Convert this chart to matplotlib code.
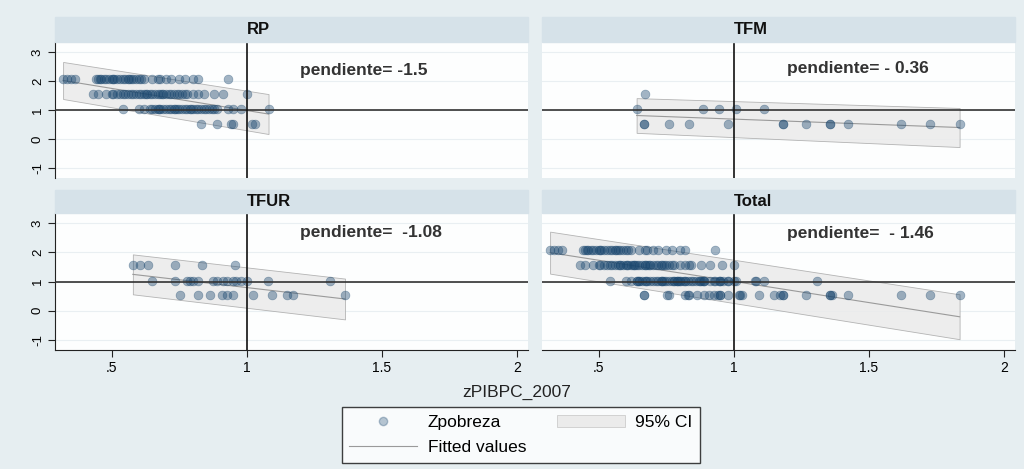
import numpy as np
import matplotlib
matplotlib.use('Agg')
import matplotlib.pyplot as plt
from matplotlib.lines import Line2D
from matplotlib.patches import Patch, Rectangle

plt.rcParams['font.family'] = ['Liberation Sans', 'DejaVu Sans']

# data: Zpobreza takes four levels
levels = [2.07, 1.55, 1.03, 0.52]

# RP, x positions by level
rp_rows = [
    [0.32, 0.335, 0.35, 0.365, 0.44, 0.45, 0.455, 0.46, 0.47, 0.48, 0.49, 0.50, 0.505, 0.51,
     0.52, 0.53, 0.54, 0.55, 0.56, 0.565, 0.57, 0.58, 0.59, 0.60, 0.61, 0.62, 0.65, 0.67,
     0.68, 0.70, 0.72, 0.75, 0.77, 0.80, 0.82, 0.93],
    [0.43, 0.45, 0.48, 0.50, 0.505, 0.52, 0.53, 0.54, 0.55, 0.56, 0.57, 0.58, 0.59, 0.60,
     0.61, 0.62, 0.625, 0.63, 0.64, 0.65, 0.66, 0.67, 0.68, 0.685, 0.69, 0.70, 0.71, 0.72,
     0.73, 0.74, 0.75, 0.76, 0.77, 0.78, 0.80, 0.82, 0.84, 0.88, 0.91, 1.00],
    [0.54, 0.60, 0.62, 0.64, 0.65, 0.66, 0.67, 0.675, 0.68, 0.69, 0.70, 0.71, 0.72, 0.73,
     0.735, 0.74, 0.75, 0.76, 0.77, 0.78, 0.79, 0.795, 0.80, 0.81, 0.82, 0.83, 0.84, 0.85,
     0.86, 0.87, 0.88, 0.89, 0.93, 0.95, 0.98, 1.08],
    [0.83, 0.89, 0.94, 0.95, 1.02, 1.03],
]
tfm_rows = [
    [0.67],
    [0.64, 0.886, 0.945, 1.007, 1.113],
    [0.666, 0.666, 0.76, 0.835, 0.98, 1.18, 1.18, 1.265, 1.357, 1.357, 1.423, 1.62, 1.724, 1.835],
    [],
]
tfur_rows = [
    [],
    [0.578, 0.604, 0.633, 0.733, 0.833, 0.956],
    [0.648, 0.733, 0.78, 0.79, 0.80, 0.82, 0.874, 0.89, 0.91, 0.926, 0.948, 0.96, 0.98, 1.0,
     1.078, 1.307],
    [0.752, 0.818, 0.863, 0.907, 0.925, 0.948, 1.022, 1.093, 1.148, 1.17, 1.363],
]
# TFUR has no 2.07 level; its rows are shifted down by one level
tfur_levels = [None, 1.55, 1.03, 0.52]
tfm_levels = [1.55, 1.03, 0.52, None]

panel_names = ['RP', 'TFM', 'TFUR', 'Total']
slope_labels = ['pendiente= -1.5', 'pendiente= - 0.36', 'pendiente=  -1.08', 'pendiente=  - 1.46']
label_y = [2.38, 2.45, 2.67, 2.64]
# fitted values and 95% CI half width at the left and right ends of each panel
fit_left = [2.02, 0.81, 1.245, 1.99]
fit_right = [0.86, 0.395, 0.40, -0.21]
ci_left = [0.64, 0.60, 0.685, 0.72]
ci_right = [0.69, 0.675, 0.70, 0.77]


def flatten(rows, lv):
    px, py = [], []
    for r, v in zip(rows, lv):
        px += r
        py += [v] * len(r)
    return px, py


rp_x, rp_y = flatten(rp_rows, levels)
tfm_x, tfm_y = flatten(tfm_rows, tfm_levels)
tfur_x, tfur_y = flatten(tfur_rows, tfur_levels)
total_x = rp_x + tfm_x + tfur_x
total_y = rp_y + tfm_y + tfur_y

xs = [rp_x, tfm_x, tfur_x, total_x]
ys = [rp_y, tfm_y, tfur_y, total_y]

W, H = 1024, 469
BG = '#e6eef1'
STRIP = '#d6e2e9'
DOT = '#1a476f'


def rect(l, t, r, b):
    return [l / W, 1 - b / H, (r - l) / W, (b - t) / H]


fig = plt.figure(figsize=(W / 100, H / 100), dpi=100, facecolor=BG)

boxes = [(55, 42, 528, 178), (542, 42, 1015, 178),
         (55, 213, 528, 350), (542, 213, 1015, 350)]
strips = [(55, 17, 528, 42), (542, 17, 1015, 42),
          (55, 190, 528, 213), (542, 190, 1015, 213)]

for k in range(4):
    l, t, r, b = strips[k]
    fig.patches.append(Rectangle((l / W, 1 - b / H), (r - l) / W, (b - t) / H,
                                 transform=fig.transFigure, color=STRIP, zorder=0))

    ax = fig.add_axes(rect(*boxes[k]))
    ax.set_facecolor('#fdfefe')
    ax.set_xlim(0.29, 2.04)
    ax.set_ylim(-1.35, 3.35)
    for yy in [-1, 0, 1, 2, 3]:
        ax.axhline(yy, color='#e9eff2', lw=0.8, zorder=0)

    x = np.array(xs[k])
    x0, x1 = x.min(), x.max()
    ax.fill_between([x0, x1], [fit_left[k] - ci_left[k], fit_right[k] - ci_right[k]],
                    [fit_left[k] + ci_left[k], fit_right[k] + ci_right[k]],
                    facecolor='#ebebeb', edgecolor='#a8a8a8', lw=0.6, alpha=0.85, zorder=1)
    ax.plot([x0, x1], [fit_left[k], fit_right[k]], color='#9a9a9a', lw=0.8, zorder=2)
    ax.scatter(x, ys[k], s=40, color=DOT, alpha=0.4, edgecolors=DOT, linewidths=0.5, zorder=3)

    ax.axhline(1, color='#333333', lw=1.2, zorder=4)
    ax.axvline(1, color='#111111', lw=1.2, zorder=4)

    ax.text(1.195, label_y[k], slope_labels[k], fontsize=12.5, fontweight='bold',
            color='#333333', va='center', ha='left')
    fig.text(boxes[k][0] / W + (1 - 0.29) / (2.04 - 0.29) * (boxes[k][2] - boxes[k][0]) / W,
             1 - (strips[k][1] + strips[k][3]) / 2 / H, panel_names[k],
             fontsize=12, fontweight='bold', ha='left', va='center', color='#111111')

    for s in ['top', 'right']:
        ax.spines[s].set_visible(False)
    if k % 2 == 0:
        ax.spines['left'].set_color('#222222')
        ax.set_yticks([-1, 0, 1, 2, 3])
        ax.set_yticklabels(['-1', '0', '1', '2', '3'], rotation=90, va='center', fontsize=9.5)
        ax.tick_params(axis='y', length=5, color='#222222', pad=3)
    else:
        ax.spines['left'].set_visible(False)
        ax.set_yticks([])
    if k >= 2:
        ax.spines['bottom'].set_color('#222222')
        ax.set_xticks([0.5, 1, 1.5, 2])
        ax.set_xticklabels(['.5', '1', '1.5', '2'], fontsize=10)
        ax.tick_params(axis='x', length=5, color='#222222', pad=3)
    else:
        ax.spines['bottom'].set_visible(False)
        ax.set_xticks([])

fig.text(517 / W, 1 - 392 / H, 'zPIBPC_2007', fontsize=12.5, ha='center', va='center', color='#222222')

handles = [Line2D([], [], marker='o', ls='', color=DOT, alpha=0.3, markersize=6),
           Line2D([], [], color='#9a9a9a', lw=0.8),
           Patch(facecolor='#ebebeb', edgecolor='#cccccc', lw=0.6)]
leg = fig.legend(handles, ['Zpobreza', 'Fitted values', '95% CI'], ncol=2,
                 loc='center', bbox_to_anchor=(521 / W, 1 - 435 / H),
                 fontsize=12.5, frameon=True, fancybox=False, edgecolor='#111111',
                 handlelength=3.9, handletextpad=0.6, columnspacing=1.8, labelspacing=0.6,
                 borderpad=0.45)
leg.get_frame().set_linewidth(1.0)
leg.get_frame().set_facecolor('white')

fig.savefig('out.png', dpi=100, facecolor=BG)
